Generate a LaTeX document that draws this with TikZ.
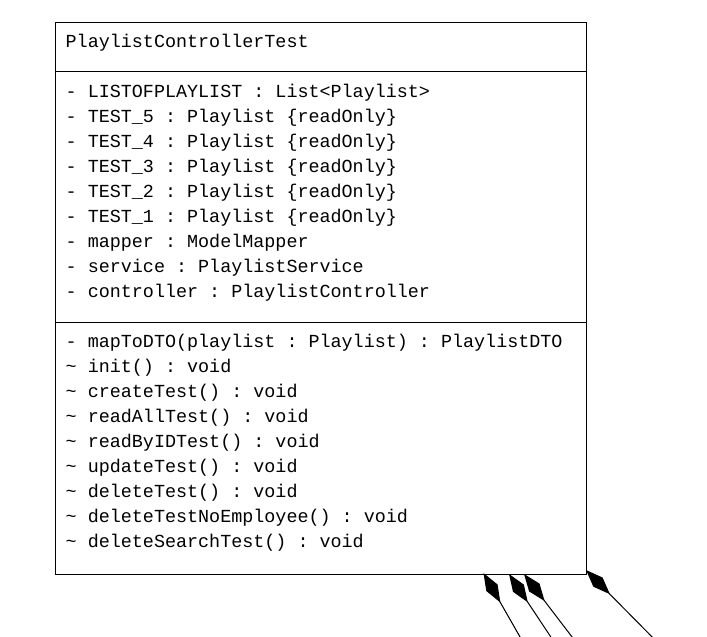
\documentclass[tikz,border=0pt]{standalone}
\usepackage{fontspec}
\setmonofont{Liberation Mono}
\usetikzlibrary{arrows.meta}
\begin{document}
\begin{tikzpicture}[x=1pt,y=-1pt,
  txt/.style={anchor=base west,inner sep=0pt,font=\ttfamily\fontsize{18.4}{25}\selectfont},
  boxline/.style={draw=black,line width=1pt},
  comp/.style={draw=black,line width=1pt,{Diamond[length=34pt,width=13pt,fill=black]}-}]
\useasboundingbox (0,0) rectangle (707,637);
\clip (0,0) rectangle (707,637);
\fill[white] (0,0) rectangle (707,637);
\node[boxline,rectangle,minimum width=531pt,minimum height=552pt,anchor=north west,inner sep=0pt] (cls) at (54.5,21.5) {};
\draw[boxline] (54.5,71.5) -- (585.5,71.5);
\draw[boxline] (54.5,322.5) -- (585.5,322.5);
\node[txt] (title) at (65.5,47) {PlaylistControllerTest};
\node[txt] (a1) at (65.5,97) {- LISTOFPLAYLIST : List<Playlist>};
\node[txt] (a2) at (65.5,122) {- TEST\_5 : Playlist \{readOnly\}};
\node[txt] (a3) at (65.5,147) {- TEST\_4 : Playlist \{readOnly\}};
\node[txt] (a4) at (65.5,172) {- TEST\_3 : Playlist \{readOnly\}};
\node[txt] (a5) at (65.5,197) {- TEST\_2 : Playlist \{readOnly\}};
\node[txt] (a6) at (65.5,222) {- TEST\_1 : Playlist \{readOnly\}};
\node[txt] (a7) at (65.5,247) {- mapper : ModelMapper};
\node[txt] (a8) at (65.5,272) {- service : PlaylistService};
\node[txt] (a9) at (65.5,297) {- controller : PlaylistController};
\node[txt] (m1) at (65.5,347) {- mapToDTO(playlist : Playlist) : PlaylistDTO};
\node[txt] (m2) at (65.5,372) {\textasciitilde{} init() : void};
\node[txt] (m3) at (65.5,397) {\textasciitilde{} createTest() : void};
\node[txt] (m4) at (65.5,422) {\textasciitilde{} readAllTest() : void};
\node[txt] (m5) at (65.5,447) {\textasciitilde{} readByIDTest() : void};
\node[txt] (m6) at (65.5,472) {\textasciitilde{} updateTest() : void};
\node[txt] (m7) at (65.5,497) {\textasciitilde{} deleteTest() : void};
\node[txt] (m8) at (65.5,522) {\textasciitilde{} deleteTestNoEmployee() : void};
\node[txt] (m9) at (65.5,547) {\textasciitilde{} deleteSearchTest() : void};
\coordinate (s1) at (483.5,573);
\coordinate (e1) at (527.5,650);
\coordinate (s2) at (509,574);
\coordinate (e2) at (559.5,650);
\coordinate (s3) at (524,574);
\coordinate (e3) at (582,650);
\coordinate (s4) at (586,570);
\coordinate (e4) at (665,650);
\draw[comp] (s1) -- (e1);
\draw[comp] (s2) -- (e2);
\draw[comp] (s3) -- (e3);
\draw[comp] (s4) -- (e4);
\end{tikzpicture}
\end{document}
